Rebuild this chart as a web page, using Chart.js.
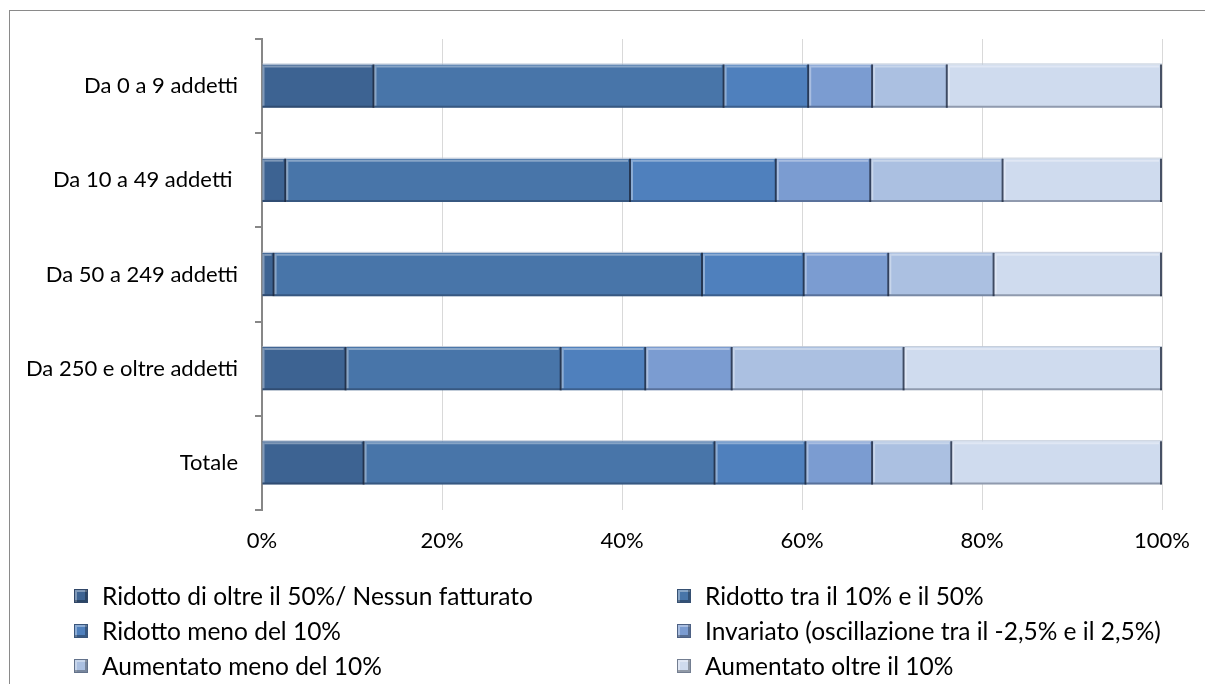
<!DOCTYPE html>
<html>
<head>
<meta charset="utf-8">
<script src="https://cdn.jsdelivr.net/npm/chart.js@4/dist/chart.umd.min.js"></script>
<style>
    html, body { margin: 0; padding: 0; background: #fff; overflow: hidden; }
    #wrap { position: relative; width: 1205px; height: 684px; }
    #frame { position: absolute; left: 9px; top: 10px; width: 1400px; height: 900px;
             border-left: 1px solid #8a8a8a; border-top: 1px solid #8a8a8a; }
    #chart { position: absolute; left: 0; top: 0; }
    #legend { position: absolute; left: 74px; top: 578px; display: grid;
              grid-template-columns: 603px auto; grid-auto-rows: 35px;
              font-family: Lato, sans-serif; font-size: 24.5px; color: #000; }
    .item { display: flex; align-items: center; white-space: nowrap; }
    .box { width: 14px; height: 14px; margin-right: 14px; box-sizing: border-box;
           border: 1px solid rgba(40, 50, 70, 0.55);
           box-shadow: inset -2px -2px 0 rgba(0, 0, 0, 0.3), inset 2px 2px 0 rgba(255, 255, 255, 0.35); }
</style>
</head>
<body>
<div id="wrap">
    <div id="frame"></div>
    <canvas id="chart" width="1205" height="684"></canvas>
    <div id="legend"></div>
</div>
<script>
const categories = ['Da 0 a 9 addetti', 'Da 10 a 49 addetti ', 'Da 50 a 249 addetti', 'Da 250 e oltre addetti', 'Totale'];
const seriesNames = [
    'Ridotto di oltre il 50%/ Nessun fatturato',
    'Ridotto tra il 10% e il 50%',
    'Ridotto meno del 10%',
    'Invariato (oscillazione tra il -2,5% e il 2,5%)',
    'Aumentato meno del 10%',
    'Aumentato oltre il 10%'
];
const ridottoOltre50 = [12.5, 2.7, 1.4, 9.4, 11.4];
const ridottoTra10e50 = [38.9, 38.3, 47.6, 23.9, 39.0];
const ridottoMeno10 = [9.4, 16.2, 11.3, 9.4, 10.1];
const invariato = [7.1, 10.5, 9.4, 9.6, 7.4];
const aumentatoMeno10 = [8.3, 14.7, 11.7, 19.1, 8.8];
const aumentatoOltre10 = [23.8, 17.6, 18.6, 28.6, 23.3];
const xTickValues = [0, 20, 40, 60, 80, 100];

const seriesValues = [ridottoOltre50, ridottoTra10e50, ridottoMeno10, invariato, aumentatoMeno10, aumentatoOltre10];
const colors = ['#3d6392', '#4875a9', '#4f80bd', '#7b9cd1', '#abc0e1', '#cfdbee'];

// Excel-like bevel on each bar segment
const bevelPlugin = {
    id: 'bevel',
    afterDatasetsDraw(chart) {
        const ctx = chart.ctx;
        chart.data.datasets.forEach((ds, i) => {
            const meta = chart.getDatasetMeta(i);
            meta.data.forEach(bar => {
                const p = bar.getProps(['x', 'y', 'base', 'height'], true);
                const left = Math.min(p.x, p.base);
                const right = Math.max(p.x, p.base);
                const top = p.y - p.height / 2;
                const bottom = p.y + p.height / 2;
                ctx.save();
                ctx.lineWidth = 1;
                ctx.strokeStyle = 'rgba(190, 200, 215, 0.9)';
                ctx.beginPath(); ctx.moveTo(left, top - 0.5); ctx.lineTo(right, top - 0.5); ctx.stroke();
                ctx.lineWidth = 2;
                ctx.strokeStyle = 'rgba(255, 255, 255, 0.35)';
                ctx.beginPath(); ctx.moveTo(left + 2, top + 2); ctx.lineTo(right - 3, top + 2); ctx.stroke();
                ctx.beginPath(); ctx.moveTo(left + 1, top + 1); ctx.lineTo(left + 1, bottom - 2); ctx.stroke();
                ctx.strokeStyle = 'rgba(25, 35, 55, 0.35)';
                ctx.beginPath(); ctx.moveTo(left, bottom - 1); ctx.lineTo(right, bottom - 1); ctx.stroke();
                ctx.strokeStyle = 'rgba(25, 35, 55, 0.75)';
                ctx.beginPath(); ctx.moveTo(right - 1, top); ctx.lineTo(right - 1, bottom); ctx.stroke();
                ctx.restore();
            });
        });
    }
};

function buildLegend(datasets) {
    const legend = document.getElementById('legend');
    datasets.forEach(ds => {
        const item = document.createElement('div');
        item.className = 'item';
        const box = document.createElement('span');
        box.className = 'box';
        box.style.background = ds.backgroundColor;
        const label = document.createElement('span');
        label.textContent = ds.label;
        item.appendChild(box);
        item.appendChild(label);
        legend.appendChild(item);
    });
}

function drawChart() {
    const datasets = seriesNames.map((name, i) => ({
        label: name,
        data: seriesValues[i],
        backgroundColor: colors[i],
        borderWidth: 0,
        barPercentage: 0.46,
        categoryPercentage: 1
    }));

    new Chart(document.getElementById('chart').getContext('2d'), {
        type: 'bar',
        data: { labels: categories, datasets: datasets },
        plugins: [bevelPlugin],
        options: {
            indexAxis: 'y',
            responsive: false,
            animation: false,
            devicePixelRatio: 1,
            layout: { padding: { top: 39, right: 43, bottom: 0, left: 0 } },
            scales: {
                x: {
                    stacked: true,
                    min: 0,
                    max: 100,
                    afterBuildTicks: (scale) => {
                        scale.ticks = xTickValues.map(v => ({ value: v }));
                    },
                    afterFit: (scale) => {
                        scale.height = 174;
                        scale.paddingLeft = 0;
                        scale.paddingRight = 0;
                    },
                    grid: { color: '#d9d9d9', lineWidth: 1, drawTicks: false },
                    border: { display: false },
                    ticks: {
                        padding: 18,
                        color: '#000',
                        font: { family: 'Lato', size: 22 },
                        callback: v => v + '%'
                    }
                },
                y: {
                    stacked: true,
                    afterFit: (scale) => { scale.width = 262; },
                    grid: { offset: true, drawOnChartArea: false, drawTicks: true, tickLength: 7, color: '#878787', lineWidth: 2 },
                    border: { display: true, color: '#878787', width: 2 },
                    ticks: {
                        padding: 17,
                        color: '#000',
                        font: { family: 'Lato', size: 22 }
                    }
                }
            },
            plugins: {
                legend: { display: false },
                tooltip: { enabled: false }
            }
        }
    });

    buildLegend(datasets);
}

document.fonts.load('22px Lato').then(drawChart, drawChart);
</script>
</body>
</html>
